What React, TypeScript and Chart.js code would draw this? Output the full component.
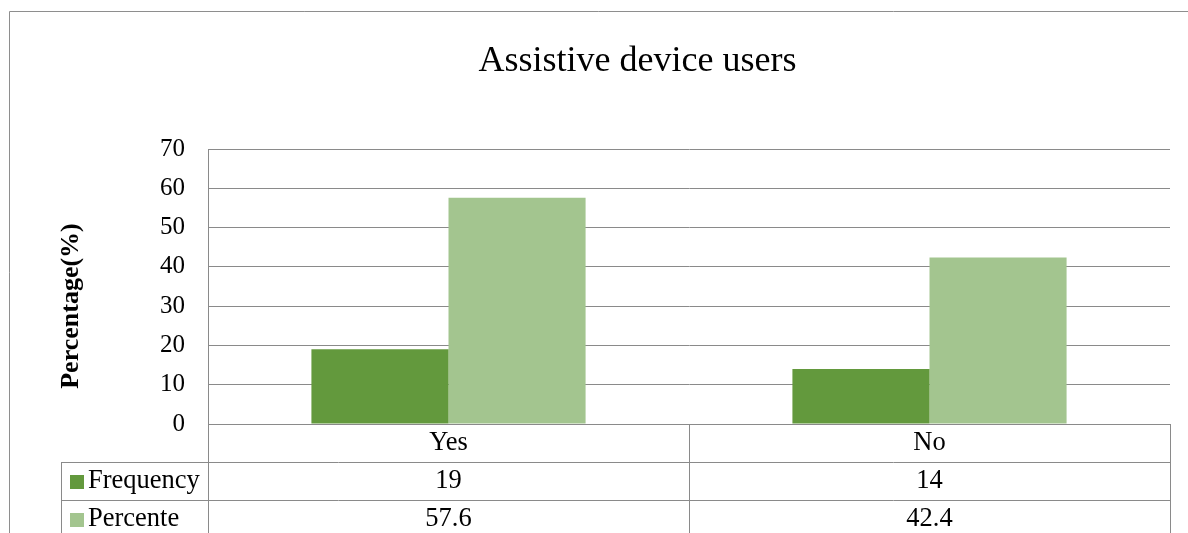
import React, { useEffect, useRef } from "react";
import { Chart, registerables } from "chart.js";

Chart.register(...registerables);

const categories = ["Yes", "No"];
const seriesNames = ["Frequency", "Percente"];
const frequencyValues = [19, 14];
const percenteValues = [57.6, 42.4];
const yTicks = [0, 10, 20, 30, 40, 50, 60, 70];
const chartTitle = "Assistive device users";
const yAxisTitle = "Percentage(%)";

const COLORS = ["#63993D", "#A3C58F"];
const GRID = "#8a8a8a";
const FONT = "'Liberation Serif', 'Times New Roman', serif";

export default function App() {
  const ref = useRef<HTMLCanvasElement | null>(null);

  useEffect(() => {
    if (!ref.current) return;
    const seriesValues = [frequencyValues, percenteValues];

    const tablePlugin = {
      id: "tablePlugin",
      afterDraw(chart: any) {
        const ctx = chart.ctx;
        const area = chart.chartArea;
        const xs = chart.scales.x;
        const rowH = 38;
        const top = area.bottom;
        const bottom = chart.height;
        const legendLeft = 61;
        const c0 = xs.getPixelForValue(0);
        const c1 = xs.getPixelForValue(1);
        const half = (c1 - c0) / 2;
        ctx.save();
        // outer chart border
        ctx.strokeStyle = "#8e8e8e";
        ctx.lineWidth = 1;
        ctx.beginPath();
        ctx.moveTo(9.5, chart.height);
        ctx.lineTo(9.5, 11.5);
        ctx.lineTo(chart.width, 11.5);
        ctx.stroke();

        // title
        ctx.fillStyle = "#000";
        ctx.font = `36px ${FONT}`;
        ctx.textAlign = "center";
        ctx.textBaseline = "middle";
        ctx.fillText(chartTitle, 637.5, 62);

        // y-axis title
        ctx.save();
        ctx.translate(71, 306);
        ctx.rotate(-Math.PI / 2);
        ctx.font = `bold 26px ${FONT}`;
        ctx.fillText(yAxisTitle, 0, 0);
        ctx.restore();

        // table grid
        ctx.strokeStyle = GRID;
        ctx.lineWidth = 1;
        ctx.beginPath();
        const vlines = [area.left];
        categories.forEach((_, i) => vlines.push(xs.getPixelForValue(i) + half));
        vlines.forEach((vx) => {
          const px = Math.round(vx) + 0.5;
          ctx.moveTo(px, top);
          ctx.lineTo(px, bottom);
        });
        ctx.moveTo(legendLeft + 0.5, top + rowH);
        ctx.lineTo(legendLeft + 0.5, bottom);
        for (let r = 1; r <= seriesNames.length; r++) {
          const py = Math.round(top + rowH * r) + 0.5;
          ctx.moveTo(legendLeft, py);
          ctx.lineTo(Math.round(area.right) + 1, py);
        }
        ctx.stroke();

        // header texts
        ctx.font = `26.5px ${FONT}`;
        ctx.fillStyle = "#000";
        ctx.textAlign = "center";
        categories.forEach((c, i) => {
          ctx.fillText(c, xs.getPixelForValue(i), top + rowH / 2 + 0.5);
        });
        // rows
        seriesNames.forEach((name, r) => {
          const cy = top + rowH * (r + 1) + rowH / 2 + 0.5;
          ctx.fillStyle = COLORS[r];
          ctx.fillRect(70, Math.round(cy) - 7, 14, 14);
          ctx.fillStyle = "#000";
          ctx.textAlign = "left";
          ctx.fillText(name, 88, cy);
          ctx.textAlign = "center";
          seriesValues[r].forEach((v, i) => {
            ctx.fillText(String(v), xs.getPixelForValue(i), cy);
          });
        });
        ctx.restore();
      },
    };

    const chart = new Chart(ref.current, {
      type: "bar",
      data: {
        labels: categories,
        datasets: [
          { label: seriesNames[0], data: frequencyValues, backgroundColor: COLORS[0] },
          { label: seriesNames[1], data: percenteValues, backgroundColor: COLORS[1] },
        ],
      },
      options: {
        responsive: false,
        animation: false,
        devicePixelRatio: 1,
        layout: { padding: { top: 149, right: 18, bottom: 0, left: 0 } },
        datasets: { bar: { categoryPercentage: 0.57, barPercentage: 1 } },
        plugins: {
          legend: { display: false },
          title: { display: false },
          tooltip: { enabled: false },
        },
        scales: {
          x: {
            ticks: { display: false },
            grid: { drawOnChartArea: false, drawTicks: false },
            border: { display: true, color: GRID },
            afterFit: (s: any) => {
              s.height = 109;
            },
          },
          y: {
            min: 0,
            max: 70,
            afterBuildTicks: (s: any) => {
              s.ticks = yTicks.map((v) => ({ value: v }));
            },
            ticks: {
              padding: 23,
              color: "#000",
              font: { family: FONT, size: 25 },
            },
            grid: { color: GRID, drawTicks: false },
            border: { display: true, color: GRID },
            afterFit: (s: any) => {
              s.width = 208;
            },
          },
        },
      },
      plugins: [tablePlugin],
    });
    return () => chart.destroy();
  }, []);

  return (
    <div style={{ position: "fixed", left: 0, top: 0, width: 1188, height: 533, background: "#fff" }}>
      <canvas ref={ref} width={1188} height={533} style={{ display: "block" }} />
    </div>
  );
}
